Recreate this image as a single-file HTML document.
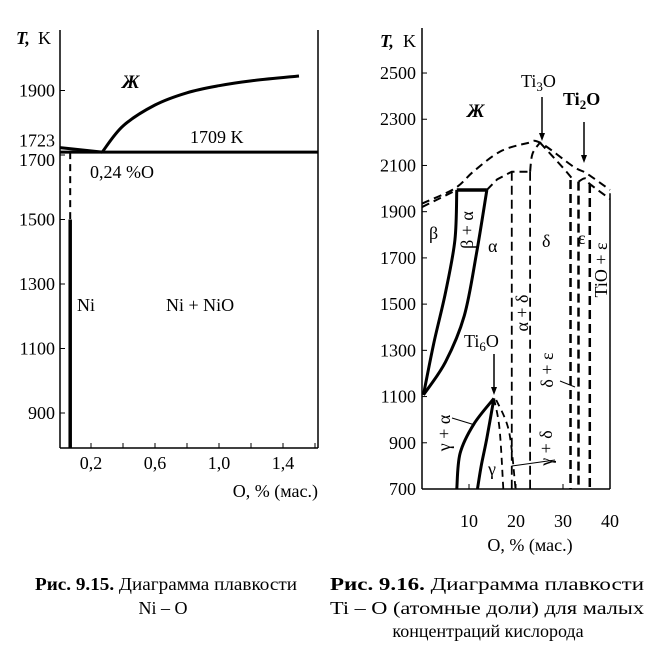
<!DOCTYPE html>
<html><head><meta charset="utf-8"><style>
html,body{margin:0;padding:0;background:#fff;}
svg{display:block;font-family:"Liberation Serif",serif;}
</style></head><body>
<svg id="fig" width="663" height="657" viewBox="0 0 663 657" xmlns="http://www.w3.org/2000/svg">
<g id="left"></g>
<g id="right"></g>
<g font-size="18" fill="#000">
<text x="35" y="590" textLength="262" lengthAdjust="spacingAndGlyphs"><tspan font-weight="bold">Рис. 9.15.</tspan> Диаграмма плавкости</text>
<text x="163" y="614" text-anchor="middle">Ni – O</text>
<text x="330" y="590" textLength="314" lengthAdjust="spacingAndGlyphs"><tspan font-weight="bold">Рис.  9.16.</tspan>  Диаграмма  плавкости</text>
<text x="330" y="614" textLength="314" lengthAdjust="spacingAndGlyphs">Ti – O (атомные доли) для малых</text>
<text x="488" y="637" text-anchor="middle">концентраций кислорода</text>
</g>
</svg>
<script>
const NS="http://www.w3.org/2000/svg";
// ---- Left chart data (Ni-O) ----
const niYTicks=[900,1100,1300,1500,1700,1900];
const niXTickLabels=[0.2,0.6,1.0,1.4];
const niXMinor=[0.2,0.4,0.6,0.8,1.0,1.2,1.4,1.6];
const niLiquidusO=[0.27,0.4,0.6,0.8,1.0,1.2,1.5];
const niLiquidusT=[1709,1790,1855,1893,1915,1930,1945];
const niEutecticT=1709;
const niMeltT=1723;
const niEutecticO=0.27;
const niSolvusO=0.07;
// ---- Right chart data (Ti-O) ----
const tiYTicks=[700,900,1100,1300,1500,1700,1900,2100,2300,2500];
const tiXTicks=[10,20,30,40];
const tiLiqO=[0,7,10.9,16.6,22.3,25.1,32.2,35,40];
const tiLiqT=[1935,2001,2073,2160,2196,2199,2095,2066,1994];
const tiInnerO=[0,7.4];
const tiInnerT=[1920,1994];
const tiShelfO=[13.8,16,19.1,23];
const tiShelfT=[1994,2040,2073,2073];
const tiRiseO=[23,23.5,25.1];
const tiRiseT=[2073,2150,2199];
const tiPeakDownO=[25.1,30,32.2];
const tiPeakDownT=[2199,2090,2037];
const tiDomeO=[33.3,34.7,35.7,40];
const tiDomeT=[2030,2044,2020,1955];
const tiVertO=[19.1,23,31.6,33.3,35.7];
const tiVertTop=[2073,2073,2037,2030,2020];
const tiBoxTopO=[7.4,13.8];
const tiBoxT=1994;
const tiBetaO=[7.4,7.0,5,2.5,0.3];
const tiBetaT=[1994,1777,1550,1330,1107];
const tiAlphaO=[13.8,11.6,9,5,0.3];
const tiAlphaT=[1994,1720,1450,1250,1107];
const tiG1O=[15.3,11,8.1,7.4];
const tiG1T=[1092,980,854,700];
const tiG2O=[15.3,13.8,12.6,11.8];
const tiG2T=[1092,920,800,700];
const tiD1O=[15.3,16.5,17.3];
const tiD1T=[1092,960,700];
const tiD2O=[15.8,18.5,19.9];
const tiD2T=[1085,950,700];

function el(tag,attrs,parent,name,inter){const e=document.createElementNS(NS,tag);for(const k in attrs)e.setAttribute(k,attrs[k]);


parent.appendChild(e);return e;}
function txt(parent,x,y,s,name,extra){const t=el('text',Object.assign({x:x,y:y,'font-size':18},extra||{}),parent,name);t.textContent=s;return t;}
function poly(parent,xs,ys,fx,fy,attrs,name){const pts=xs.map((v,i)=>fx(v)+','+fy(ys[i])).join(' ');return el('polyline',Object.assign({points:pts,fill:'none',stroke:'#000'},attrs),parent,name);}
function smooth(parent,xs,ys,fx,fy,attrs,name){const P=xs.map((v,i)=>[fx(v),fy(ys[i])]);let d='M'+P[0].join(',');
for(let i=0;i<P.length-1;i++){const p0=P[i-1]||P[i],p1=P[i],p2=P[i+1],p3=P[i+2]||p2;
d+=' C'+(p1[0]+(p2[0]-p0[0])/6)+','+(p1[1]+(p2[1]-p0[1])/6)+' '+(p2[0]-(p3[0]-p1[0])/6)+','+(p2[1]-(p3[1]-p1[1])/6)+' '+p2[0]+','+p2[1];}
return el('path',Object.assign({d:d,fill:'none',stroke:'#000'},attrs),parent,name);}

// ---- Left ----
(function(){
const g=document.getElementById('left');
const x=v=>59+v*160, y=T=>413-(T-900)*0.3225;
el('line',{x1:60,y1:30,x2:60,y2:448,stroke:'#000','stroke-width':1.5},g,'y-axis');
el('line',{x1:60,y1:448,x2:318,y2:448,stroke:'#000','stroke-width':1.5},g,'x-axis');
el('line',{x1:318,y1:30,x2:318,y2:448,stroke:'#000','stroke-width':1.5},g,'right-border');
niYTicks.forEach(T=>{el('line',{x1:60,y1:y(T),x2:65,y2:y(T),stroke:'#000'},g,'y-tick');
 if(T!==1700) txt(g,55,y(T)+6,String(T),'y-tick-label',{'text-anchor':'end'});});
txt(g,55,y(1700)+11,'1700','y-tick-label',{'text-anchor':'end'});
txt(g,55,y(niMeltT)-1,String(niMeltT),'y-tick-label-1723',{'text-anchor':'end'});
niXMinor.forEach(v=>el('line',{x1:x(v),y1:448,x2:x(v),y2:443,stroke:'#000'},g,'x-tick'));
niXTickLabels.forEach(v=>txt(g,x(v),469,v.toFixed(1).replace('.',','),'x-tick-label',{'text-anchor':'middle'}));
txt(g,318,497,'O, % (мас.)','x-axis-title',{'text-anchor':'end'});
txt(g,16,44,'T,','y-axis-title',{'font-style':'italic','font-weight':'bold'});
txt(g,38,44,'K','y-axis-unit',{});
el('line',{x1:60,y1:y(niEutecticT),x2:318,y2:y(niEutecticT),stroke:'#000','stroke-width':3},g,'eutectic-line');
el('line',{x1:60,y1:y(niMeltT),x2:x(niEutecticO),y2:y(niEutecticT),stroke:'#000','stroke-width':3},g,'ni-liquidus');
smooth(g,niLiquidusO,niLiquidusT,x,y,{'stroke-width':3},'nio-liquidus');
el('line',{x1:x(niSolvusO),y1:y(niEutecticT),x2:x(niSolvusO),y2:y(1500),stroke:'#000','stroke-width':2,'stroke-dasharray':'7,5'},g,'solvus-dashed');
el('line',{x1:x(niSolvusO),y1:y(1500),x2:x(niSolvusO),y2:448,stroke:'#000','stroke-width':3.5},g,'solvus-solid');
txt(g,122,88,'Ж','label-liquid',{'font-style':'italic','font-weight':'bold','font-size':19});
txt(g,190,143,'1709 K','label-1709',{});
txt(g,90,178,'0,24 %O','label-eutectic',{});
txt(g,77,311,'Ni','label-ni',{});
txt(g,166,311,'Ni + NiO','label-ni-nio',{});
})();

// ---- Right ----
(function(){
const g=document.getElementById('right');
const x=v=>422+v*4.7, y=T=>489-(T-700)*0.2311;
el('line',{x1:422,y1:28,x2:422,y2:489,stroke:'#000','stroke-width':1.5},g,'y-axis');
el('line',{x1:422,y1:489,x2:610,y2:489,stroke:'#000','stroke-width':1.5},g,'x-axis');
el('line',{x1:610,y1:y(1980),x2:610,y2:489,stroke:'#000','stroke-width':1.5},g,'right-border');
tiYTicks.forEach(T=>{el('line',{x1:422,y1:y(T),x2:427,y2:y(T),stroke:'#000'},g,'y-tick');
 txt(g,416,y(T)+6,String(T),'y-tick-label',{'text-anchor':'end'});});
tiXTicks.forEach(v=>{el('line',{x1:x(v),y1:489,x2:x(v),y2:484,stroke:'#000'},g,'x-tick');
 txt(g,x(v),527,String(v),'x-tick-label',{'text-anchor':'middle'});});
txt(g,530,551,'O, % (мас.)','x-axis-title',{'text-anchor':'middle'});
txt(g,380,47,'T,','y-axis-title',{'font-style':'italic','font-weight':'bold'});
txt(g,403,47,'K','y-axis-unit',{});
const D={'stroke-width':2,'stroke-dasharray':'8,5'};
smooth(g,tiLiqO,tiLiqT,x,y,D,'liquidus-dashed');
smooth(g,tiInnerO,tiInnerT,x,y,D,'beta-solidus-dashed');
poly(g,tiShelfO,tiShelfT,x,y,D,'alpha-solidus-dashed');
smooth(g,tiRiseO,tiRiseT,x,y,D,'ti3o-rise-dashed');
smooth(g,tiPeakDownO,tiPeakDownT,x,y,D,'ti3o-fall-dashed');
smooth(g,tiDomeO,tiDomeT,x,y,D,'ti2o-dome-dashed');
tiVertO.forEach((v,i)=>el('line',{x1:x(v),y1:y(tiVertTop[i]),x2:x(v),y2:489,stroke:'#000','stroke-width':i>=2?2.5:1.8,'stroke-dasharray':'9,5'},g,'phase-boundary-vertical'));
el('line',{x1:x(tiBoxTopO[0]),y1:y(tiBoxT),x2:x(tiBoxTopO[1]),y2:y(tiBoxT),stroke:'#000','stroke-width':3.5},g,'beta-alpha-top');
smooth(g,tiBetaO,tiBetaT,x,y,{'stroke-width':3},'beta-boundary');
smooth(g,tiAlphaO,tiAlphaT,x,y,{'stroke-width':3},'alpha-boundary');
smooth(g,tiG1O,tiG1T,x,y,{'stroke-width':3},'gamma-alpha-boundary');
smooth(g,tiG2O,tiG2T,x,y,{'stroke-width':3},'gamma-boundary');
smooth(g,tiD1O,tiD1T,x,y,{'stroke-width':1.8,'stroke-dasharray':'7,5'},'gamma-delta-dashed-1');
smooth(g,tiD2O,tiD2T,x,y,{'stroke-width':1.8,'stroke-dasharray':'7,5'},'gamma-delta-dashed-2');
function arrow(x0,y0,y1,name){el('line',{x1:x0,y1:y0,x2:x0,y2:y1-6,stroke:'#000','stroke-width':1.5},g,name);
el('polygon',{points:(x0-3)+','+(y1-8)+' '+(x0+3)+','+(y1-8)+' '+x0+','+y1,fill:'#000'},g,name+'-head');}
arrow(542,97,141,'ti3o-arrow');arrow(584,122,163,'ti2o-arrow');arrow(494,354,395,'ti6o-arrow');
el('line',{x1:452,y1:418,x2:475,y2:425,stroke:'#000'},g,'leader-gamma-alpha');
el('line',{x1:512,y1:466,x2:555,y2:460,stroke:'#000'},g,'leader-gamma-delta');
el('line',{x1:560,y1:381,x2:575,y2:387,stroke:'#000'},g,'leader-delta-eps');
txt(g,467,117,'Ж','label-liquid',{'font-style':'italic','font-weight':'bold','font-size':19});
txt(g,521,87,'Ti','label-ti3o',{}).innerHTML='Ti<tspan font-size="13" dy="4">3</tspan><tspan dy="-4">O</tspan>';
txt(g,563,105,'Ti','label-ti2o',{'font-weight':'bold'}).innerHTML='Ti<tspan font-size="13" dy="4">2</tspan><tspan dy="-4">O</tspan>';
txt(g,464,347,'Ti','label-ti6o',{}).innerHTML='Ti<tspan font-size="13" dy="4">6</tspan><tspan dy="-4">O</tspan>';
txt(g,429,239,'β','label-beta',{});
txt(g,488,252,'α','label-alpha',{});
txt(g,542,247,'δ','label-delta',{});
txt(g,578,244,'ε','label-epsilon',{});
txt(g,488,475,'γ','label-gamma',{});
const rot=(cx,cy,s,name)=>txt(g,0,0,s,name,{transform:'translate('+cx+','+cy+') rotate(-90)','text-anchor':'middle'});
rot(473,230,'β + α','label-beta-alpha');
rot(528,313,'α + δ','label-alpha-delta');
rot(553,370,'δ + ε','label-delta-epsilon');
rot(450,433,'γ + α','label-gamma-alpha');
rot(552,448,'γ + δ','label-gamma-delta');
rot(607,270,'TiO + ε','label-tio-epsilon');
})();
</script>
</body></html>
